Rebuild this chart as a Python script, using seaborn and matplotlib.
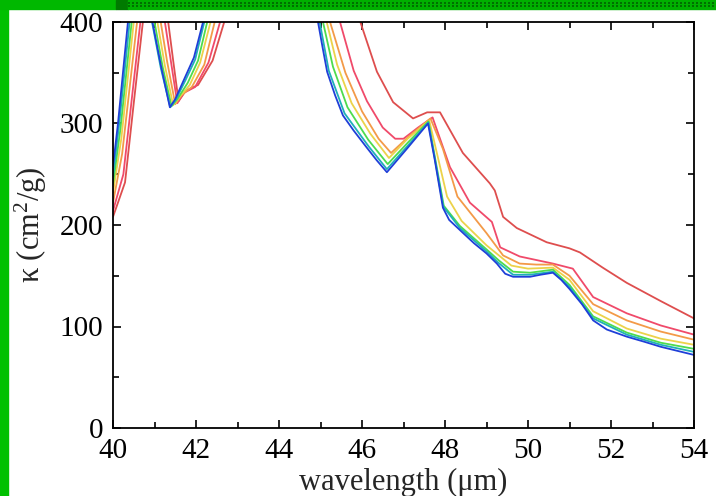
import numpy as np
import pandas as pd
import matplotlib
matplotlib.use("Agg")
import matplotlib.pyplot as plt
import seaborn as sns
from matplotlib.ticker import MultipleLocator
from matplotlib.patches import Rectangle
from matplotlib.lines import Line2D

# ---------------- data ----------------
blue_wl = [40.0, 40.12, 40.36, 40.55, 40.8, 40.95, 41.15, 41.37, 41.5, 41.73, 41.95, 42.17, 42.35,
           44.8, 44.94, 45.05, 45.16, 45.35, 45.54, 45.8, 46.12, 46.35, 46.6, 47.1, 47.59, 47.75,
           47.95, 48.1, 48.36, 48.7, 49.0, 49.25, 49.45, 49.64, 50.05, 50.3, 50.6, 50.8, 51.0,
           51.3, 51.57, 51.9, 52.38, 52.8, 53.2, 53.6, 54.0]
blue_k = [258, 300, 400, 480, 460, 400, 358, 316, 324, 345, 365, 400, 440,
          440, 400, 375, 351, 328, 308, 293, 276, 264, 252, 276, 300, 265,
          217, 205, 195, 182, 172, 162, 152, 149, 149, 151, 153, 146, 137,
          122, 106, 97, 90, 85, 80, 76, 72]

cyan_wl = [40.0, 40.15, 40.4, 40.6, 40.8, 40.94, 41.15, 41.38, 41.52, 41.75, 41.98, 42.2, 42.4,
           44.8, 44.98, 45.2, 45.58, 46.15, 46.6, 47.1, 47.6, 47.96, 48.36, 49.0, 49.28, 49.64,
           50.05, 50.6, 51.0, 51.57, 52.38, 53.2, 54.0]
cyan_k = [248, 300, 400, 480, 440, 400, 355, 316, 324, 343, 363, 400, 440,
          440, 400, 352, 310, 278, 255, 278, 301, 218, 197, 174, 163, 151,
          151, 154, 139, 108, 92, 82, 75]

green_wl = [40.0, 40.18, 40.45, 40.65, 40.85, 41.0, 41.2, 41.41, 41.55, 41.8, 42.05, 42.27, 42.45,
            44.8, 45.06, 45.3, 45.65, 46.15, 46.62, 47.1, 47.6, 47.97, 48.36, 49.0, 49.3, 49.64,
            50.05, 50.6, 51.0, 51.57, 52.38, 53.2, 54.0]
green_k = [240, 295, 400, 480, 440, 400, 355, 317, 324, 340, 362, 400, 440,
           440, 400, 356, 316, 284, 260, 281, 302, 219, 199, 176, 165, 154,
           153, 156, 141, 110, 94, 84, 78]

yellow_wl = [40.0, 40.2, 40.5, 40.7, 40.9, 41.07, 41.25, 41.45, 41.6, 41.85, 42.1, 42.35, 42.55,
             44.8, 45.15, 45.4, 45.75, 46.2, 46.65, 47.1, 47.62, 48.05, 48.4, 49.0, 49.3, 49.6,
             50.0, 50.6, 51.0, 51.57, 52.38, 53.2, 54.0]
yellow_k = [232, 285, 400, 480, 440, 400, 357, 318, 326, 338, 360, 400, 440,
            440, 400, 358, 320, 290, 266, 285, 303, 228, 204, 180, 170, 160,
            157, 158, 146, 115, 98, 88, 82]

orange_wl = [40.0, 40.22, 40.58, 40.8, 41.0, 41.15, 41.3, 41.5, 41.65, 41.9, 42.2, 42.45, 42.65,
             44.8, 45.23, 45.6, 46.0, 46.4, 46.7, 47.15, 47.65, 47.95, 48.3, 49.0, 49.4, 49.8,
             50.2, 50.6, 51.0, 51.57, 52.38, 53.2, 54.0]
orange_k = [222, 270, 400, 480, 440, 400, 362, 319, 328, 336, 358, 400, 440,
            440, 400, 350, 312, 285, 271, 288, 305, 275, 228, 192, 170, 162,
            161, 161, 150, 122, 106, 95, 87]

red_wl = [40.0, 40.25, 40.66, 40.9, 41.1, 41.25, 41.4, 41.55, 41.7, 41.98, 42.3, 42.58, 42.8,
          44.8, 45.47, 45.8, 46.12, 46.5, 46.8, 47.0, 47.35, 47.7, 48.12, 48.6, 49.13, 49.33,
          49.8, 50.6, 51.08, 51.57, 52.38, 53.2, 54.0]
red_k = [214, 250, 400, 480, 440, 400, 360, 320, 330, 336, 360, 400, 440,
         440, 400, 352, 322, 296, 285, 285, 296, 306, 257, 222, 203, 178,
         169, 162, 157, 129, 113, 101, 92]

crimson_wl = [40.0, 40.29, 40.5, 40.72, 40.95, 41.15, 41.33, 41.45, 41.58, 41.75, 42.05, 42.4, 42.68,
              42.9, 45.5, 45.96, 46.36, 46.75, 47.23, 47.57, 47.88, 48.43, 49.08, 49.2, 49.4,
              49.73, 50.45, 51.0, 51.25, 51.8, 52.38, 53.2, 54.0]
crimson_k = [208, 242, 320, 400, 480, 440, 400, 362, 322, 332, 338, 362, 400,
             440, 440, 400, 351, 321, 305, 311, 311, 271, 241, 234, 208,
             197, 183, 177, 173, 158, 143, 125, 108]

series_names = ["blue", "cyan", "green", "yellow", "orange", "red", "crimson"]
series_colors = ["#1f3fd8", "#1fb0b8", "#4ddc4d", "#ecd24a", "#f39a48", "#f04a6a", "#de4e4e"]
series_wl = [blue_wl, cyan_wl, green_wl, yellow_wl, orange_wl, red_wl, crimson_wl]
series_k = [blue_k, cyan_k, green_k, yellow_k, orange_k, red_k, crimson_k]

frames = [pd.DataFrame({"wavelength": w, "kappa": k, "series": n})
          for n, w, k in zip(series_names, series_wl, series_k)]
df = pd.concat(frames, ignore_index=True)

# ---------------- style ----------------
sns.set_style("ticks")
plt.rcParams["font.family"] = ["Liberation Serif", "DejaVu Serif"]
plt.rcParams["mathtext.fontset"] = "custom"
plt.rcParams["mathtext.rm"] = "Liberation Serif"
plt.rcParams["mathtext.it"] = "Liberation Serif:italic"
plt.rcParams["axes.linewidth"] = 1.3

W, H = 716, 496
fig = plt.figure(figsize=(W / 100, H / 100), dpi=100, facecolor="white")
ax = fig.add_axes([113 / W, 1 - 428 / H, (694 - 113) / W, (428 - 22) / H])

sns.lineplot(data=df, x="wavelength", y="kappa", hue="series",
             hue_order=series_names[::-1],
             palette=dict(zip(series_names, series_colors)),
             estimator=None, sort=False, legend=False, linewidth=1.3, ax=ax)

ax.set_xlim(40, 54)
ax.set_ylim(0, 400)
ax.xaxis.set_major_locator(MultipleLocator(2))
ax.xaxis.set_minor_locator(MultipleLocator(1))
ax.yaxis.set_major_locator(MultipleLocator(100))
ax.yaxis.set_minor_locator(MultipleLocator(50))
ax.tick_params(which="both", direction="in", top=True, right=True,
               width=1.2, labelsize=21, colors="black")
ax.tick_params(which="major", length=6)
ax.tick_params(which="minor", length=4)
ax.tick_params(axis="x", which="major", pad=7)
ax.tick_params(axis="y", which="major", pad=7)
ax.set_xlabel("wavelength (μm)", fontsize=22, labelpad=3)
ax.set_ylabel("κ (cm$^{2}$/g)", fontsize=22, labelpad=8)
for s in ax.spines.values():
    s.set_color("black")

# ---------------- green frame decoration ----------------
fig.patches.append(Rectangle((0, 0), 8 / W, 1, transform=fig.transFigure,
                             color="#00c000", zorder=5))
fig.patches.append(Rectangle((0, 1 - 9 / H), 116 / W, 9 / H, transform=fig.transFigure,
                             color="#00b800", zorder=5))
fig.patches.append(Rectangle((116 / W, 1 - 9 / H), 12 / W, 9 / H, transform=fig.transFigure,
                             color="#007a00", zorder=5))
fig.patches.append(Rectangle((128 / W, 1 - 9 / H), 1 - 128 / W, 9 / H, transform=fig.transFigure,
                             color="#00b000", zorder=5))
for yy in (2.5, 6.0):
    fig.add_artist(Line2D([128 / W, 1], [1 - yy / H] * 2, transform=fig.transFigure,
                          color="#006400", lw=1.2, linestyle=(0, (1.2, 1.2)), zorder=6))

fig.savefig("out.png", dpi=100, facecolor="white")
